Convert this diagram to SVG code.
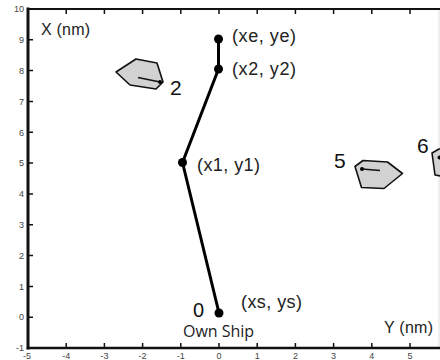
<svg xmlns="http://www.w3.org/2000/svg" width="440" height="360" viewBox="0 0 440 360">
<style>
.ax{stroke:#111;fill:none;stroke-linecap:square}
.tk{stroke:#111;stroke-width:1.5}
.tl{font-family:"Liberation Sans",Arial,sans-serif;font-size:9px;fill:#444}
.lbl{font-family:"Liberation Sans",Arial,sans-serif;font-size:18px;fill:#222}
.ttl{font-family:"Liberation Sans",Arial,sans-serif;font-size:16px;fill:#222}
.num{font-family:"Liberation Sans",Arial,sans-serif;font-size:21px;fill:#111}
.ship{fill:#d2d2d2;stroke:#111;stroke-width:1.6;stroke-linejoin:round}
.hd{stroke:#111;stroke-width:1.5}
.pt{fill:#000}
.trk{stroke:#000;stroke-width:3;fill:none;stroke-linejoin:round}
</style>
<rect width="440" height="360" fill="#fff"/>
<g id="axes">
<line x1="439" y1="9" x2="439" y2="348" stroke="#ddd" stroke-width="1"/>
<line class="ax" x1="28" y1="9" x2="440" y2="9" stroke-width="2"/>
<line class="ax" x1="28" y1="9" x2="28" y2="348" stroke-width="3"/>
<line class="ax" x1="28" y1="348" x2="440" y2="348" stroke-width="2.5"/>
<g id="yticks">
<path class="tk" d="M28 39.8h5M28 70.6h5M28 101.5h5M28 132.3h5M28 163.1h5M28 193.9h5M28 224.7h5M28 255.5h5M28 286.4h5M28 317.2h5"/>
</g>
<g id="xticks">
<path class="tk" d="M66.2 348v-5M104.4 348v-5M142.6 348v-5M180.8 348v-5M219 348v-5M257.2 348v-5M295.4 348v-5M333.6 348v-5M371.8 348v-5M410 348v-5"/>
<path class="tk" d="M66.2 9v5M104.4 9v5M142.6 9v5M180.8 9v5M219 9v5M257.2 9v5M295.4 9v5M333.6 9v5M371.8 9v5M410 9v5"/>
</g>
<g class="tl" text-anchor="end">
<text x="24" y="12">10</text>
<text x="24" y="43">9</text>
<text x="24" y="74">8</text>
<text x="24" y="104.5">7</text>
<text x="24" y="135.5">6</text>
<text x="24" y="166">5</text>
<text x="24" y="197">4</text>
<text x="24" y="228">3</text>
<text x="24" y="258.5">2</text>
<text x="24" y="289.5">1</text>
<text x="24" y="320">0</text>
<text x="24" y="351">-1</text>
</g>
<g class="tl" text-anchor="middle">
<text x="27" y="359">-5</text>
<text x="66.2" y="359">-4</text>
<text x="104.4" y="359">-3</text>
<text x="142.6" y="359">-2</text>
<text x="180.8" y="359">-1</text>
<text x="219" y="359">0</text>
<text x="257.2" y="359">1</text>
<text x="295.4" y="359">2</text>
<text x="333.6" y="359">3</text>
<text x="371.8" y="359">4</text>
<text x="410" y="359">5</text>
</g>
<text class="ttl" x="41" y="35" textLength="49">X (nm)</text>
<text class="ttl" x="384" y="333" textLength="49">Y (nm)</text>
</g>
<g id="connectors">
<polyline class="trk" points="219,313 182.5,162.5 218.5,69 218.5,39"/>
</g>
<g id="own-ship">
<circle class="pt" cx="219" cy="313" r="4.5"/>
<text class="num" x="193" y="317" style="font-size:20px">0</text>
<text x="183" y="337" font-family="'Open Sans',sans-serif" font-size="16" fill="#222" textLength="71">Own Ship</text>
<text class="lbl" x="241" y="308" textLength="61">(xs, ys)</text>
</g>
<g id="wp1">
<circle class="pt" cx="182.5" cy="162.5" r="4.5"/>
<text class="lbl" x="197" y="171" textLength="63">(x1, y1)</text>
</g>
<g id="wp2">
<circle class="pt" cx="218.5" cy="69" r="4.5"/>
<text class="lbl" x="232" y="75" textLength="64">(x2, y2)</text>
</g>
<g id="wpe">
<circle class="pt" cx="218.5" cy="39" r="4.5"/>
<text class="lbl" x="232" y="42" textLength="64">(xe, ye)</text>
</g>
<g id="ship2">
<polygon class="ship" points="116,72 136,59 157,63 163,82 156,89 130,85"/>
<line class="hd" x1="138" y1="77.5" x2="160" y2="82"/>
<circle class="pt" cx="160" cy="82" r="2"/>
<text class="num" x="170" y="95">2</text>
</g>
<g id="ship5">
<polygon class="ship" points="355,166.5 363,160.5 387.5,162 402.5,173.5 384,188.5 361.5,187.5"/>
<line class="hd" x1="362" y1="169" x2="380" y2="170.5"/>
<circle class="pt" cx="362" cy="169" r="2"/>
<text class="num" x="334" y="168">5</text>
</g>
<g id="ship6">
<polygon class="ship" points="432,153 439,149 456,150 462,170 447,177 435,175"/>
<line class="hd" x1="439.5" y1="157.5" x2="450" y2="158.5"/>
<circle class="pt" cx="439.5" cy="157.5" r="2"/>
<text class="num" x="417" y="153">6</text>
</g>
</svg>
